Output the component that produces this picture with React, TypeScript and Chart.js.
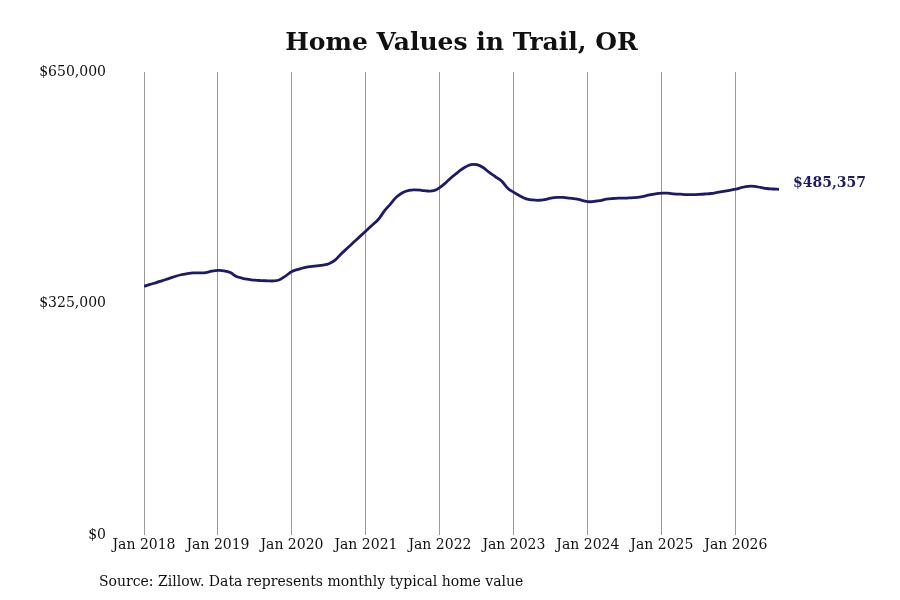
import React, { useEffect, useRef } from 'react';
import { Chart, registerables } from 'chart.js';

Chart.register(...registerables);

// Monthly typical home value, Jan 2018 .. Aug 2026
const startYear = 2018;
const values2018 = [349300, 352000, 354500, 357300, 360000, 363000, 365500, 367000, 368000, 368200, 368600, 370500];
const values2019 = [371500, 371000, 368500, 363000, 360500, 359000, 357800, 357300, 357000, 356800, 358500, 364000];
const values2020 = [370000, 373000, 375500, 377000, 378000, 379000, 381000, 386000, 395000, 403000, 411000, 419000];
const values2021 = [427000, 435000, 443000, 455000, 465000, 475000, 481000, 484000, 484500, 484000, 483000, 483500];
const values2022 = [488000, 495000, 503000, 510000, 516000, 520000, 520000, 516000, 509000, 503000, 497000, 487000];
const values2023 = [481000, 476000, 472000, 470500, 470000, 471000, 473000, 474000, 474000, 473000, 472000, 470000];
const values2024 = [468000, 468500, 469500, 471500, 472500, 473000, 473000, 473500, 474000, 475500, 477500, 479000];
const values2025 = [480000, 480000, 479000, 478500, 478000, 478000, 478300, 478800, 479500, 481000, 482500, 484000];
const values2026 = [485500, 488000, 489600, 489500, 488000, 486500, 485800, 485357];

const homeValues = [
  ...values2018, ...values2019, ...values2020, ...values2021, ...values2022,
  ...values2023, ...values2024, ...values2025, ...values2026,
];
const yTicks = [0, 325000, 650000];

const titleText = 'Home Values in Trail, OR';
const sourceText = 'Source: Zillow. Data represents monthly typical home value';
const lineColor = '#1c1a6b';
const serif = '"DejaVu Serif", serif';

const fmt = (v: number) => '$' + Math.round(v).toLocaleString('en-US');

// title over the plot area, last value next to the line end, source note
const annotations = {
  id: 'annotations',
  afterDatasetsDraw(chart: any) {
    const { ctx, chartArea } = chart;
    const meta = chart.getDatasetMeta(0);
    const last = meta.data[meta.data.length - 1];
    ctx.save();
    ctx.textBaseline = 'middle';

    ctx.fillStyle = '#111';
    ctx.font = `bold 25px ${serif}`;
    ctx.textAlign = 'center';
    ctx.fillText(titleText, (chartArea.left + chartArea.right) / 2, 43);

    ctx.fillStyle = lineColor;
    ctx.font = `bold 14px ${serif}`;
    ctx.textAlign = 'left';
    ctx.fillText(fmt(homeValues[homeValues.length - 1]), last.x + 14, last.y - 6);

    ctx.fillStyle = '#111';
    ctx.font = `14px ${serif}`;
    ctx.fillText(sourceText, 99, 582);
    ctx.restore();
  },
};

const App: React.FC = () => {
  const chartRef = useRef<HTMLCanvasElement>(null);
  const chartInstance = useRef<Chart | null>(null);

  useEffect(() => {
    if (!chartRef.current) return;
    const ctx = chartRef.current.getContext('2d');
    if (!ctx) return;

    if (chartInstance.current) {
      chartInstance.current.destroy();
    }

    chartInstance.current = new Chart(ctx, {
      type: 'line',
      data: {
        datasets: [{
          data: homeValues.map((v, i) => ({ x: i, y: v })),
          borderColor: lineColor,
          borderWidth: 2.8,
          pointRadius: 0,
          tension: 0.4,
          fill: false,
        }],
      },
      options: {
        responsive: true,
        maintainAspectRatio: false,
        animation: false,
        layout: { padding: { top: 72, right: 121, bottom: 44, left: 0 } },
        plugins: {
          legend: { display: false },
          tooltip: { enabled: false },
          title: { display: false },
        },
        scales: {
          x: {
            type: 'linear',
            min: 0,
            max: homeValues.length - 1,
            afterBuildTicks: (axis: any) => {
              const t = [];
              for (let i = 0; i < homeValues.length; i += 12) t.push({ value: i });
              axis.ticks = t;
            },
            ticks: {
              autoSkip: false,
              maxRotation: 0,
              color: '#111',
              font: { family: serif, size: 14 },
              padding: 2,
              callback: (v: any) => 'Jan ' + (startYear + Math.round(Number(v) / 12)),
            },
            grid: { display: true, color: '#999', lineWidth: 1, drawTicks: false },
            border: { display: false },
          },
          y: {
            min: 0,
            max: 650000,
            afterBuildTicks: (axis: any) => {
              axis.ticks = yTicks.map((v) => ({ value: v }));
            },
            afterFit: (axis: any) => {
              axis.width = 144;
            },
            ticks: {
              color: '#111',
              font: { family: serif, size: 14 },
              padding: 30,
              callback: (v: any) => fmt(Number(v)),
            },
            grid: { display: false },
            border: { display: false },
          },
        },
      },
      plugins: [annotations],
    });

    return () => {
      if (chartInstance.current) {
        chartInstance.current.destroy();
        chartInstance.current = null;
      }
    };
  }, []);

  return (
    <div style={{ position: 'fixed', left: 0, top: 0, width: '900px', height: '600px', background: '#fff' }}>
      <canvas ref={chartRef} />
    </div>
  );
};

export default App;
